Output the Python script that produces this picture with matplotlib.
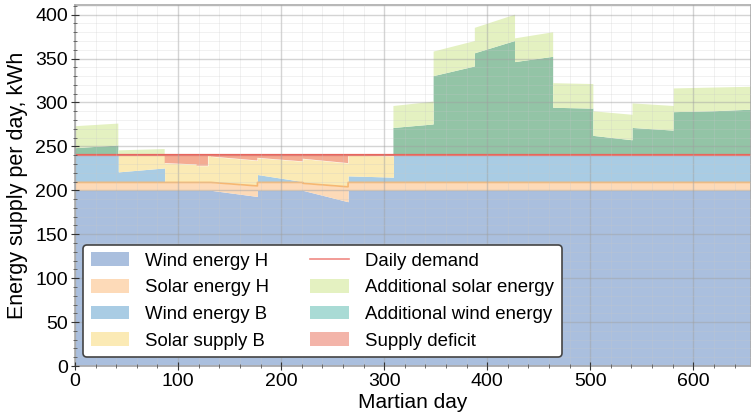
import numpy as np
import matplotlib.pyplot as plt
from matplotlib.ticker import MultipleLocator

plt.rcParams['font.family'] = ['Liberation Sans', 'DejaVu Sans']

# segments of the mission (Martian days), values at start / end of each segment
seg_start = [0, 42, 87, 118, 129, 132, 177, 221, 265, 309, 348, 388, 427, 464, 503, 541, 581, 619]
seg_end = [42, 87, 118, 129, 132, 177, 221, 265, 309, 348, 388, 427, 464, 503, 541, 581, 619, 660]

wind_h_a = [200, 200, 200, 200, 200, 200, 200, 200, 200, 200, 200, 200, 200, 200, 200, 200, 200, 200]
wind_h_b = [200, 200, 200, 200, 200, 193, 200, 187, 200, 200, 200, 200, 200, 200, 200, 200, 200, 200]
solar_h_a = [9, 9, 9, 9, 9, 9, 9, 8, 9, 9, 9, 9, 9, 9, 9, 9, 9, 9]
solar_h_b = [9, 9, 9, 9, 9, 12, 9, 17, 9, 9, 9, 9, 9, 9, 9, 9, 9, 9]
wind_b_a = [31, 12, 0, 0, 0, 0, 9, 0, 7.5, 31, 31, 31, 31, 31, 31, 31, 31, 31]
wind_b_b = [31, 16.5, 0, 0, 0, 0, 1, 0, 6, 31, 31, 31, 31, 31, 31, 31, 31, 31]
solar_b_a = [0, 19, 22, 19, 31, 29.5, 19, 28, 23.5, 0, 0, 0, 0, 0, 0, 0, 0, 0]
solar_b_b = [0, 14.5, 20.5, 19, 31, 29, 23, 27, 24, 0, 0, 0, 0, 0, 0, 0, 0, 0]
add_wind_a = [8, 0, 0, 0, 0, 0, 0, 0, 0, 31, 90, 116, 106, 54, 22, 31, 49, 50]
add_wind_b = [11, 0, 0, 0, 0, 0, 0, 0, 0, 35, 101, 130, 112, 53, 17, 28, 50, 52]
add_solar_a = [25, 5.5, 0, 0, 0, 0, 0, 0, 0, 25, 28, 29, 27, 28, 28, 28, 27, 27]
add_solar_b = [25, 7, 0, 0, 0, 0, 0, 0, 0, 26, 29, 30, 28, 28, 29, 28, 27, 26]

demand = 240


def steps(a, b):
    # interleave start/end values so each segment is a straight piece
    return np.ravel(np.column_stack([a, b])).astype(float)


x = steps(seg_start, seg_end)
wind_h = steps(wind_h_a, wind_h_b)
solar_h = steps(solar_h_a, solar_h_b)
wind_b = steps(wind_b_a, wind_b_b)
solar_b = steps(solar_b_a, solar_b_b)
add_wind = steps(add_wind_a, add_wind_b)
add_solar = steps(add_solar_a, add_solar_b)

y1 = wind_h
y2 = y1 + solar_h
y3 = y2 + wind_b
y4 = y3 + solar_b
y6 = demand + add_wind
y7 = y6 + add_solar

fig = plt.figure(figsize=(7.51, 4.17), dpi=100)
ax = fig.add_axes([0.0999, 0.1223, 0.9001, 0.8657])

h1 = ax.fill_between(x, 0, y1, color='#aabfde', lw=0, label='Wind energy H')
h2 = ax.fill_between(x, y1, y2, color='#fddab8', lw=0, label='Solar energy H')
ax.plot(x, y2, color='#f6b772', lw=1.2)
h3 = ax.fill_between(x, y2, y3, color='#a9cce4', lw=0, label='Wind energy B')
h4 = ax.fill_between(x, y3, y4, color='#fbeab5', lw=0, label='Solar supply B')
h8 = ax.fill_between(x, y4, demand, where=y4 < demand, color='#f4ab92', lw=0,
                     label='Supply deficit')
h7 = ax.fill_between(x, demand, y6, where=add_wind > 0, color='#93c4a6', lw=0,
                     label='Additional wind energy')
h6 = ax.fill_between(x, y6, y7, where=add_solar > 0, color='#e4f1c1', lw=0,
                     label='Additional solar energy')
h5, = ax.plot([0, 660], [demand, demand], color='#e8655c', lw=1.6, label='Daily demand')

ax.set_xlim(0, 656)
ax.set_ylim(0, 411)
ax.xaxis.set_major_locator(MultipleLocator(100))
ax.xaxis.set_minor_locator(MultipleLocator(20))
ax.yaxis.set_major_locator(MultipleLocator(50))
ax.yaxis.set_minor_locator(MultipleLocator(10))
ax.set_axisbelow(False)
ax.grid(which='major', color='#a0a0a0', alpha=0.45, lw=1.0)
ax.grid(which='minor', color='#c8c8c8', alpha=0.25, lw=0.7)
ax.tick_params(which='major', direction='inout', length=6, labelsize=14, color='#333333', pad=2)
ax.tick_params(which='minor', direction='inout', length=3, color='#555555')
for s in ax.spines.values():
    s.set_color('#aaaaaa')
    s.set_linewidth(1.2)

ax.set_xlabel('Martian day', fontsize=15, labelpad=2)
ax.set_ylabel('Energy supply per day, kWh', fontsize=15.5, labelpad=5)

leg = ax.legend(handles=[h1, h2, h3, h4, h5, h6, h7, h8], ncol=2, loc='lower left',
                bbox_to_anchor=(0.012, 0.025), borderaxespad=0, fontsize=13.4,
                handlelength=2.05, handleheight=0.75, handletextpad=0.9,
                columnspacing=2.2, labelspacing=0.5, framealpha=1, fancybox=True)
leg.get_frame().set_edgecolor('#444444')
leg.get_frame().set_linewidth(1.2)
leg.legend_handles[6].set_facecolor('#a9dbd5')
leg.legend_handles[7].set_facecolor('#f3b4a9')
leg.legend_handles[4].set_color('#f08a84')
leg.legend_handles[4].set_linewidth(1.2)

fig.savefig('out.png', dpi=100)
